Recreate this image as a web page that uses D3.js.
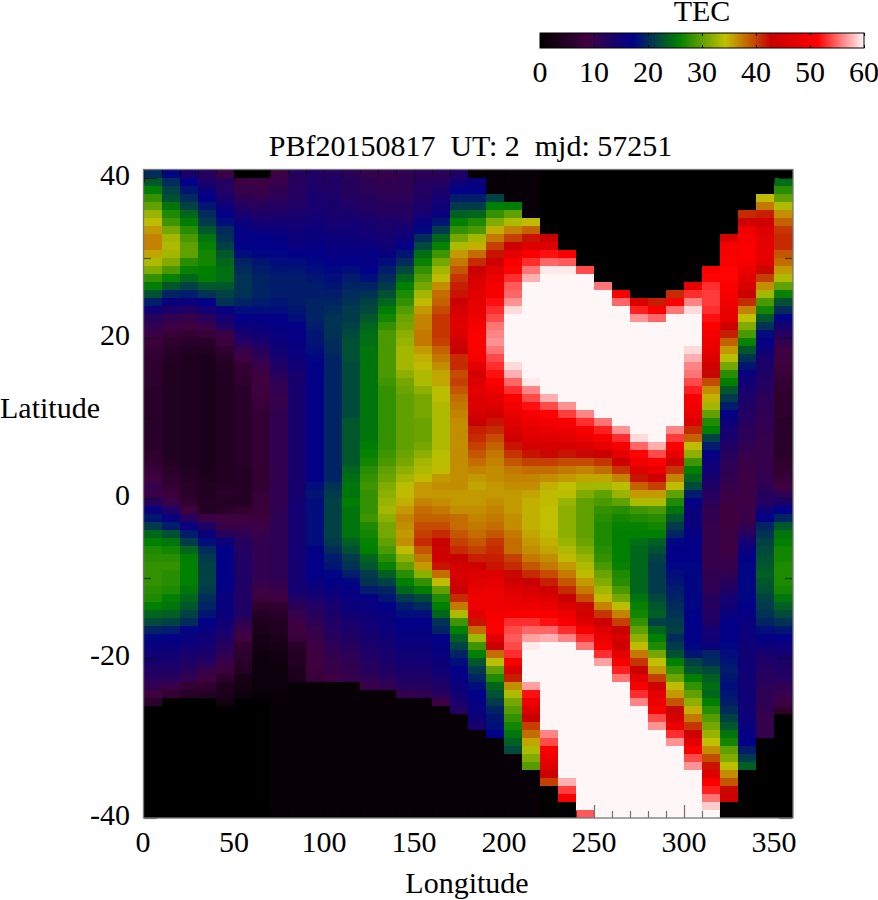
<!DOCTYPE html>
<html><head><meta charset="utf-8">
<script src="https://cdn.jsdelivr.net/npm/d3@7"></script>
<style>html,body{margin:0;padding:0;background:#fff}svg{display:block}text{font-family:"Liberation Serif",serif;fill:#000;white-space:pre}</style>
</head><body><svg id="c" width="878" height="900"></svg>
<script>
// TEC: one array per longitude column (0-10, 10-20 ...), rows from latitude 41 down to -40
const lon000=[20,23,25.5,28,30,32.5,34.5,36,37,37,35.5,33.5,31.5,28,25.5,22.5,19,15,12,10.5,9.5,8,7,6.5,6,6,6,5.5,5.5,5.5,5.5,5.5,5.5,5.5,5.5,6,6.5,7.5,8.5,10,9.5,12,15.5,18.5,21,24,25.7,27,27.5,28,28,28,27.5,27,25.7,24,22,19.5,17.5,16,15,14,13,12,10.5,8.5,6,0,0,0,0,0,0,0,0,0,0,0,0,0,0];
const lon010=[17.5,20,21.5,22.5,25,27,28.5,31,33,33.5,33,31.5,29,26,23,19.5,15.5,13.5,10.5,9,7.5,6,5.5,5,4.5,4.5,4.5,4.5,4.5,4.5,4.5,4.5,4.5,4.5,4.5,4.5,5,5.5,6,7,8,9.5,13,16,19,22.5,25,26.5,27.5,28,27.5,27.5,27,25.7,25,23.5,21.5,19,17,15.5,15,14,13,12,9.5,7,0,0,0,0,0,0,0,0,0,0,0,0,0,0,0];
const lon020=[14,17,18.5,20,21.5,24,25.5,27.5,29,30,30,27.5,26,24,21.5,19,15.5,13,10,8.5,7,5.5,5,4,4,4,4,4,4,4,4,4,4,4,4,4,4,4.5,5,5.5,5.5,6.5,8.5,12,16,19,21,24,25.5,25.7,25.7,25.7,25,24,23,21.5,20,17.5,16,15,14,13,12,10.5,7,5.5,0,0,0,0,0,0,0,0,0,0,0,0,0,0,0];
const lon030=[12,13.5,15.5,17,18.5,20,21,23,25,26,26.5,26.5,25.7,25.5,23,20.5,17,14.5,12,9.5,7.5,5.5,4.5,3.5,3.5,3.5,3.5,3.5,3.5,3.5,3.5,3.5,3.5,3.5,3.5,3.5,3.5,3.5,4,4.5,4.5,5,5,9,13,15.5,18,20,21,21.5,21.5,21.5,21,20,19.5,18.5,17,16,15,14.5,13.5,12.5,10,8.5,6.5,5,0,0,0,0,0,0,0,0,0,0,0,0,0,0,0];
const lon040=[9,12.5,12.5,14,15.5,17,18,20,20.5,21.5,23,24,24.5,24.5,23,21.5,20.5,16,14.5,13,9.5,8,6.5,5.5,5,4.5,4.5,4.5,4.5,4.5,4.5,4.5,4.5,4.5,4.5,4.5,4.5,4.5,4.5,5,5.5,5,5.5,8.5,9.5,12,15.5,17,17,17,17,17,16.5,16,16,15.5,15,14.5,13,12,11,9.5,8,6,4,3.5,2.5,0,0,0,0,0,0,0,0,0,0,0,0,0,0];
const lon050=[0,9,10,11,12.5,14,15.5,16.5,16.5,17,18,19.5,20,20.5,20.5,20.5,19.5,18,17,15.5,14,12.5,10,8.5,7,6.5,6,5.5,5.5,5.5,5.5,5.5,5.5,5.5,5.5,5.5,5.5,5,5,5,5,5,6.5,8.5,9.5,11,12,12.5,13,13,13,13,13,13,13,13,11,9.5,8.5,6.5,6,5.5,5,3,2.5,2,0,0,0,0,0,0,0,0,0,0,0,0,0,0,0];
const lon060=[0,9,9.5,10.5,12,13,14.5,16,17,17,17.5,18.5,19,19.5,19.5,19.5,19,18,16.5,16,15,14,12,11,9.5,8.5,8.5,8.5,8,7.5,7,7,7,7,7,7,7,7,6.5,6.5,7.5,7.5,7.5,8,9,10,10.5,10.5,10.5,10.5,10.5,10,9,8,6,5,4,3.5,3,2.5,2,1.5,1.5,1.5,1.5,1,0,0,0,0,0,0,0,0,0,0,0,0,0,0,0];
const lon070=[9,10,10.5,11.5,12.5,13.5,14.5,15.5,16.5,17,17.5,18,18.5,19,19,19,18.5,18,17,16.5,16,15.5,15,14,13,12,11,10.5,10,10,10.5,10.5,10.5,10.5,10.5,10.5,10.5,10.5,10.5,10.5,10.5,10.5,11,11,11,11,11,11,11,11,11,10.5,9.5,8.5,6.5,5.5,4.5,4.5,3.5,3,2.5,2,1.5,1.5,1.5,1,1,1,1,1,1,1,1,1,1,1,1,1,1,1,1];
const lon080=[12,12,12.5,12.5,13,14,14.5,15,15.5,16,17,18,18.5,19,19,19,19,18.5,18,17,16.5,16.5,16,15.5,15,14,14,14,14,14,14,14,14,14,14,14,14,14,14,14,14,14.5,14.5,14.5,14.5,14.5,14.5,14.5,14.5,14.5,14.5,14.5,14.5,13,11.5,10,9,8.5,7.5,5.5,4.5,5,4,3.5,1,1,1,1,1,1,1,1,1,1,1,1,1,1,1,1,1];
const lon090=[13,13,13.5,14,14,14.5,15,15.5,16,16.5,17,17.5,18,18.5,19,19,19.5,19.5,19.5,19,18.5,18.5,18,17.5,17,17,17,17,17,17,17,17,17,17,17,17,17,17,17,18,18.5,18,18,18,18,18,18,17,17,17,17,16,15,14,12.5,12,11,10,9.5,9,8.5,8.5,8,7.5,1,1,1,1,1,1,1,1,1,1,1,1,1,1,1,1,1];
const lon100=[12.5,13,13,13.5,14,14,14.5,15,15.5,16,16.5,17,17.5,18,18.5,19,19.5,20,20.5,20.5,20.5,20,20,19.5,19.5,19.5,19.5,19.5,19.5,19.5,19.5,19.5,19.5,19.5,19.5,19.5,19.5,19.5,19.5,20.5,21,21.5,21.5,21.5,21.5,21.5,21,20,19,18.5,17.5,17,16,15,14,13.5,13,12.5,12,11,10.5,10,9.5,9,1,1,1,1,1,1,1,1,1,1,1,1,1,1,1,1,1];
const lon110=[11.5,12,12,12.5,13,14,14.5,15,15.5,16,16.5,17,18,19,19.5,20,20.5,21,21,21.5,22,22.5,22.5,22.5,22,22,22,22,22,22,22,23,23,23,23,23,23,24,24.5,25,25,25.5,25,25,25,25,23.5,22.5,21,20.5,19,17.5,16.5,16,15.5,15,14,13.5,13,12,11.5,11,10.5,10,1,1,1,1,1,1,1,1,1,1,1,1,1,1,1,1,1];
const lon120=[10,11,11.5,12,12.5,13,14,14.5,15,16,16.5,16.5,17,18,19.5,20.5,21.5,22,23,24,24.5,24.5,25,25,25,25,25,25,25,25,25,25,25,25,25.5,26,26.5,27.5,28,28.5,28,28,28,28.5,27,26.5,26,25.7,24,23,21,20.5,19,16.5,16,15.5,15,14.5,14,13.5,13,12.5,12,11,9.5,1,1,1,1,1,1,1,1,1,1,1,1,1,1,1,1];
const lon130=[10,10.5,11,11.5,12,12.5,13.5,14,14.5,15,16,18,19,20,21,22.5,24,25.5,26.5,28,29,29,29,29,29,29,28.5,28,28,28,28,28,28,28,28,28.5,29,30,30.5,31.5,32,32.5,33,32,31,31,30,29,27.5,26,23.5,21.5,19.5,18.5,17,16,16,15.5,15,14.5,14,13.5,13,12,10.5,1,1,1,1,1,1,1,1,1,1,1,1,1,1,1,1];
const lon140=[10.5,11,11,11.5,12,12.5,13.5,14.5,15.5,17,18.5,20,22,24,25.7,27,28,29.5,30.5,31,32,32.5,33,33,33,32,31,30.5,30,30,30,30,30,30,30,30.5,31,32,33,34,34.5,35,36,37,36.5,36,36.5,34.5,32,30,27.5,25.7,24,21,19,18,17,16.5,16,15.5,15,14.5,14,13,12,10,1,1,1,1,1,1,1,1,1,1,1,1,1,1,1];
const lon150=[11.5,12,12.5,13,13.5,14.5,16,17.5,20,22,24.5,26,28,29.5,31,33,34.5,36,37,37,37.5,37.5,36,35,34.5,33.5,33.5,32,31,31,31,30.5,30.5,30.5,31,32,33,33.5,34.5,36,36,37,38,38.5,39.5,40,41,39,37.5,36,32,28,25.5,22,20,18,17,16.5,16,15.5,15,14.5,14,13,12,11,1,1,1,1,1,1,1,1,1,1,1,1,1,1,1];
const lon160=[11.5,12.5,13.5,14.5,15,16,18.5,21,24,26,28.5,31,33,34.5,36.5,38,38.5,39.5,40.5,40.5,40.5,40,38.5,37.5,36.5,35.5,35.5,34,34,33.5,33.5,33.5,33.5,33.5,33.5,34,34,34.5,36,36.5,36,36.5,37.5,38.5,39.5,41,43,44,44,42,38,34.5,30,27,25.7,24,20.5,19.5,17,16.5,16,15.5,15,14,13,12,9,1,1,1,1,1,1,1,1,1,1,1,1,1,1];
const lon170=[13,15,17,19,21,23.5,25.7,28,31,33.5,36,37.5,39,40.5,41.5,42,43.5,45,46,46.5,46,44,43,41,41,39.5,40,39,38,37.5,37,36.5,36.5,36.5,36.5,36.5,36.5,36.5,36.5,36.5,36,36,36.5,38,38,39,40,41,43,44.5,45,44.5,43,41,37.5,33.5,28.5,25.7,23.5,21.5,19.5,18,17,16.5,15.5,15,14,12.5,1,1,1,1,1,1,1,1,1,1,1,1,1];
const lon180=[1,16,16.5,19,21,24,27,29,33,35,38,41,43,45,46,47,47.5,48,49,50,51,51,51,50,47,45,46,47,46,46,45,43,41.5,41,40,39,38,37,36,35.5,36,36,36.5,37,37.5,38,39,40,41.5,44,46,47,48,49,49,47,42,38,33,28.5,25.7,23,21,19.5,18,17,16.5,16,15.5,14,1,1,1,1,1,1,1,1,1,1,1];
const lon190=[1,1,1,21.5,25.7,28,31.5,35,37.5,40,42,44,47,49,50,50.5,52,53,54,55.5,56,56.5,55.5,54,53,52,51,49,47,46,44,42,41,39.5,38.5,37.5,37,36.5,36.5,36,36,36.5,37,37.5,38,39,40.5,41,41.5,42,46,47.5,48.5,49,49,50,51,51,47,43,38,34,30,27,24,22.5,21,19.5,18.5,18,17,1,1,1,1,1,1,1,1,1,1];
const lon200=[1,1,1,1,25.5,30,33.5,37,40,43.5,47,51,51.5,53,54.5,55,56.5,59,60,60,60,60,60,60,59,57.5,55,53,51,49.5,48,46.5,45.5,44,42,40.5,39,37.5,37,36.5,36,36,36,36.5,36.5,37.5,38,38,40,41,42.5,44,46,47.5,49,50.5,53,54,54.5,54,53,50.5,45,41.5,36.5,33.5,31,29.5,28,26.5,25,23.5,22,1,1,1,1,1,1,1,1];
const lon210=[1,1,1,1,1,1,34.5,38.5,42,46,51,53,55.5,57.5,60,60,60,60,60,60,60,60,60,60,60,60,59.5,56,54,52,50.5,49,47.5,46,44.5,42,40,38,37,36.5,35.5,35,35,35,35,35.5,36,36.5,37.5,39,41,43,45,47,49,51,53,55,57,59.5,60,60,60,60,57,52,49,46,43,40,38,35.5,33.5,31.5,29.5,1,1,1,1,1,1];
const lon220=[0,0,0,0,0,0,0,0,43,46,52,55,59.5,60,60,60,60,60,60,60,60,60,60,60,60,60,60,60,57.5,54,51.5,49.5,48,46.5,45,42.5,40,38,36.5,35,34.5,34.5,34.3,34.3,34.3,34.5,35,35.5,36.5,37.5,39.5,41.5,44,46,48,50.5,52,55,57.5,60,60,60,60,60,60,60,60,60,60,60,56,54,51,49,46.5,43.5,40,0,0,0,0];
const lon230=[0,0,0,0,0,0,0,0,0,0,50,54.5,59.5,60,60,60,60,60,60,60,60,60,60,60,60,60,60,60,60,56.5,53.5,50.5,49,47,44.5,42,39.5,37.5,36,34.3,34,32.5,32,32,32,32,32.5,33.5,34.5,36,37.5,39,41,43,46,49,50.5,53,56,60,60,60,60,60,60,60,60,60,60,60,60,60,60,60,60,60,57.5,53.5,50.5,0,0];
const lon240=[0,0,0,0,0,0,0,0,0,0,0,0,54,60,60,60,60,60,60,60,60,60,60,60,60,60,60,60,60,60,56,53,50.5,48.5,45.5,42.5,39.5,37,35.5,33,31.5,30,30,30,30,30,30.5,31.5,32.5,33.5,34.5,36,37.5,39.5,42.5,44.5,46,50.5,53,55.5,60,60,60,60,60,60,60,60,60,60,60,60,60,60,60,60,60,60,60,60,54.5];
const lon250=[0,0,0,0,0,0,0,0,0,0,0,0,0,0,55.5,60,60,60,60,60,60,60,60,60,60,60,60,60,60,60,60,55.5,52.5,50,47.5,43,40.5,38,35.5,33,30,29,28,27.5,27,27,27,27.5,28,29,30.5,31.5,33,34.5,37,40.5,43.5,46,48,50.5,53,57,60,60,60,60,60,60,60,60,60,60,60,60,60,60,60,60,60,60,60];
const lon260=[0,0,0,0,0,0,0,0,0,0,0,0,0,0,0,51,55,60,60,60,60,60,60,60,60,60,60,60,60,60,60,60,56.5,53,50,47,44,40.5,37,34,32.5,30,27.5,26.5,26,25.7,25.7,25.7,25.7,26,27,27.5,29,31,34,37,40,43,45,44,47,50,52.5,55.5,60,60,60,60,60,60,60,60,60,60,60,60,60,60,60,60,60];
const lon270=[0,0,0,0,0,0,0,0,0,0,0,0,0,0,0,0,45.5,52.5,56.5,60,60,60,60,60,60,60,60,60,60,60,60,60,60,59,55,51.5,49.5,46,42,38.5,36,33.5,28.5,27,26,25.7,24.5,24,24,24,24,24,24,25,26,26.5,28,30,32,34.5,37.5,40.5,43,47,50.5,53,56,60,60,60,60,60,60,60,60,60,60,60,60,60,60];
const lon280=[0,0,0,0,0,0,0,0,0,0,0,0,0,0,0,0,41.5,51,55,60,60,60,60,60,60,60,60,60,60,60,60,60,60,60,57.5,54,51,48,44,40,36,33.5,29,27.5,26.5,25.7,23.5,22.5,21.5,21,21,21,21,22,23,23.5,21.5,24,25.7,27,31,34.3,36,40,44,47,48.5,51,54,56.5,60,60,60,60,60,60,60,60,60,60,60];
const lon290=[0,0,0,0,0,0,0,0,0,0,0,0,0,0,0,41,51,55.5,60,60,60,60,60,60,60,60,60,60,60,60,60,60,56,53.5,51,48,44,40.5,37,34.5,30,27,25,23,21,19.5,17.5,17,17,17.5,18,18.5,19,19.5,20,20.5,21,21.5,20,21,22.5,25.7,28,30.5,34.5,36,39,42.5,45,49,53,56.5,60,60,60,60,60,60,60,60,60];
const lon300=[0,0,0,0,0,0,0,0,0,0,0,0,0,0,47.5,53,56,59,60,60,60,60,59,57.5,56,55.5,54,52.5,50,49.5,48,46,41,38.5,34.5,32,28.5,25.7,24,22,19,16.5,16,15.5,16,16.5,17,17,17,17.5,17.5,17.5,17.5,17.5,17.5,17,17,17,17,17.5,18.5,21.5,23,25.7,28,30,32,35,37.5,40.5,44,47,51,54,56.5,60,60,60,60,60,60];
const lon310=[0,0,0,0,0,0,0,0,0,0,0,0,50,51.5,53,53.5,53.5,53,52,51,49.5,49,48,46,44,42.5,39.5,36.5,35,33,30,27,25.7,21.5,19,16.5,15.5,15,14,13,12.5,11.5,10.5,10.5,10,10,10,10,10,10,10.5,11,11,12,12,12.5,13,14.5,15,15.5,19.5,20,22,23.5,24.5,24,25.7,27.5,29.5,31,32.5,34.3,36.5,39.5,42,46.5,51,52.5,55.5,58.5,60];
const lon320=[0,0,0,0,0,0,0,0,45,50,50.5,51,51.5,51.5,51,50.5,49.5,48,47.5,44,41.5,38.5,36,34,31,27.5,25.7,23,21,19,16.5,15.5,14.5,14,13,12,11.5,11,10.5,10,9.5,9,8.5,8.5,8.5,8.5,9,8.5,9.5,10,10.5,12,13,14.5,15,16,16.5,17,17,17.5,18,18.5,19,18.5,18,18.5,19,20,21.5,23,25,26.5,30,31.5,34,36.5,39,42.5,44,0,0];
const lon330=[0,0,0,0,0,41,44,49,50.5,51,51,50.5,49,47,45,43.5,41,37,34.3,31.5,29,26,23,20.5,18.5,16,15,14,13.5,13,12.5,12,11.5,11.5,10.5,10,9.5,9.5,9,9,9,9,9.5,9.5,10.5,12.5,14.5,16,17,17.5,17.5,17.5,17.5,17.5,17,16.5,16,15.5,15.5,15,15,15,15,15,15,15,15,15,15.5,16,16.5,17,19,21,23.5,0,0,0,0,0,0];
const lon340=[0,0,0,34.5,37.5,41.5,44,46,47,47.5,47.5,47,42.5,40,36.5,33,29,26.5,23,20.5,18,16.5,15.5,14,13.5,13,12.5,12,11.5,11,11,10.5,10.5,10,10,10,10,10,10.5,11,12,12.5,15,17,19.5,20.5,21.5,22,22.5,23,23.5,23,22.5,21.5,21,20.5,19.5,18,16.5,15.5,14,13,12.5,12,11.5,11,11,10.5,10,10,10,0,0,0,0,0,0,0,0,0,0];
const lon350=[0,24.5,27.5,30,33.5,36.5,38.5,40.5,41,41,39,38,36,33.5,30,26,22.5,20,17,14,12.5,10.5,9,8.5,8,7.5,7,6.5,6,6,6,5.5,5.5,5.5,5.5,5.5,6,6.5,7.5,8.5,11,13.5,17,19.5,23,25,25.7,26.5,26.5,27,27,27,26.5,25,23.5,22,20.5,18.5,17,15.5,14.5,13.5,13,12.5,11,10,9,6,0,0,0,0,0,0,0,0,0,0,0,0,0];
const columns=[lon000,lon010,lon020,lon030,lon040,lon050,lon060,lon070,lon080,lon090,lon100,lon110,lon120,lon130,lon140,lon150,lon160,lon170,lon180,lon190,lon200,lon210,lon220,lon230,lon240,lon250,lon260,lon270,lon280,lon290,lon300,lon310,lon320,lon330,lon340,lon350];
const paletteStops=[0,60/7,120/7,180/7,240/7,300/7,360/7,60];
const paletteColors=["#000000","#400040","#000088","#008000","#c0c000","#c80000","#ff0000","#fff7f7"];
const lonTicks=[0,50,100,150,200,250,300,350];
const lonMinor=[10,20,30,40,60,70,80,90,110,120,130,140,160,170,180,190,210,220,230,240,260,270,280,290,310,320,330,340];
const latTicks=[-40,-20,0,20,40];
const latMinor=[-30,-10,10,30];
const cbTicks=[0,10,20,30,40,50,60];
const titleText="PBf20150817  UT: 2  mjd: 57251";

const svg=d3.select("#c");
const x=d3.scaleLinear().domain([0,360]).range([144,792]);
const y=d3.scaleLinear().domain([-40,41]).range([818,170]);
const colour=d3.scaleLinear().domain(paletteStops).range(paletteColors).clamp(true);
const cells=columns.flatMap((col,c)=>col.map((v,r)=>({lon:c*10,lat:41-r,v})));
svg.append("g").attr("shape-rendering","crispEdges").selectAll("rect").data(cells).join("rect")
 .attr("x",d=>d.lon===0?143:x(d.lon))
 .attr("y",d=>y(d.lat))
 .attr("width",d=>d.lon===0?19:(d.lon===350?19:18))
 .attr("height",d=>y(d.lat-1)-y(d.lat))
 .attr("fill",d=>colour(d.v));
const ink="#000";
function ticks(g,gen){g.call(gen);g.select(".domain").remove();g.selectAll("line").attr("stroke",ink).attr("stroke-opacity",.55).attr("stroke-width",1.2);}
const axes=svg.append("g");
axes.append("g").attr("transform","translate(0,818)").call(ticks,d3.axisTop(x).tickValues(lonTicks).tickSize(13).tickFormat(""));
axes.append("g").attr("transform","translate(0,818)").call(ticks,d3.axisTop(x).tickValues(lonMinor).tickSize(7).tickFormat(""));
axes.append("g").attr("transform","translate(0,170)").call(ticks,d3.axisBottom(x).tickValues(lonTicks).tickSize(13).tickFormat(""));
axes.append("g").attr("transform","translate(0,170)").call(ticks,d3.axisBottom(x).tickValues(lonMinor).tickSize(7).tickFormat(""));
axes.append("g").attr("transform","translate(144,0)").call(ticks,d3.axisRight(y).tickValues(latTicks).tickSize(13).tickFormat(""));
axes.append("g").attr("transform","translate(144,0)").call(ticks,d3.axisRight(y).tickValues(latMinor).tickSize(7).tickFormat(""));
axes.append("g").attr("transform","translate(792,0)").call(ticks,d3.axisLeft(y).tickValues(latTicks).tickSize(13).tickFormat(""));
axes.append("g").attr("transform","translate(792,0)").call(ticks,d3.axisLeft(y).tickValues(latMinor).tickSize(7).tickFormat(""));
svg.append("rect").attr("x",143.5).attr("y",169.5).attr("width",649.5).attr("height",648.5).attr("fill","none").attr("stroke","#777").attr("stroke-width",1.3);

const fs=30;
function label(px,py,t,anchor){svg.append("text").attr("x",px).attr("y",py).attr("text-anchor",anchor||"middle").attr("font-size",fs).text(t);}
lonTicks.forEach(v=>label(x(v)-(v===0?1:0),852,v));
latTicks.forEach(v=>label(130,y(v)+7,v,"end"));
label(467,893,"Longitude");
label(50,418,"Latitude");
label(470.5,156,titleText);

// colour bar
const cb=d3.scaleLinear().domain([0,60]).range([540,864]);
const grad=svg.append("defs").append("linearGradient").attr("id","g");
paletteStops.forEach((s,i)=>grad.append("stop").attr("offset",s/60).attr("stop-color",paletteColors[i]));
svg.append("rect").attr("x",540).attr("y",33).attr("width",324).attr("height",15).attr("fill","url(#g)").attr("stroke","#000").attr("stroke-width",1);
const cbAxis=svg.append("g").attr("transform","translate(0,48)").call(d3.axisTop(cb).tickValues(cbTicks).tickSize(3).tickFormat(""));
cbAxis.select(".domain").remove();
const cbAxis2=svg.append("g").attr("transform","translate(0,33)").call(d3.axisBottom(cb).tickValues(cbTicks).tickSize(3).tickFormat(""));
cbAxis2.select(".domain").remove();
cbTicks.forEach(v=>label(cb(v),82,v));
label(702,21,"TEC");
</script></body></html>
